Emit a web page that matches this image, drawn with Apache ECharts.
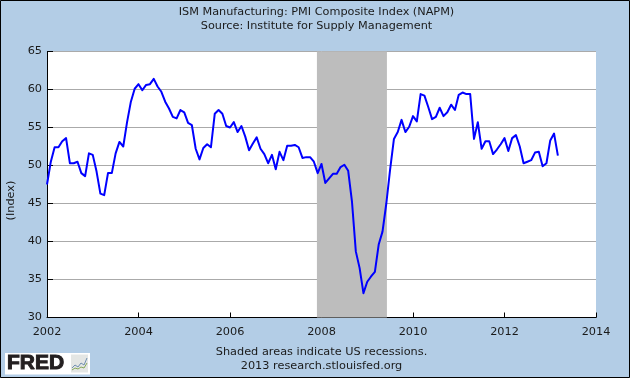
<!DOCTYPE html>
<html>
<head>
<meta charset="utf-8">
<title>ISM Manufacturing PMI</title>
<script src="https://cdn.jsdelivr.net/npm/echarts@6/dist/echarts.min.js"></script>
<style>
  html, body { margin: 0; padding: 0; background: #b3cde6; }
  #chart { width: 630px; height: 378px; }
</style>
</head>
<body>
<div id="chart"></div>
<script>
const startYear = 2002;

// monthly index readings, starting Jan 2002
const pmi2002 = [47.5, 50.5, 52.4, 52.4, 53.2, 53.6, 50.3, 50.3, 50.5, 49.0, 48.6, 51.6];
const pmi2003 = [51.4, 49.2, 46.3, 46.1, 49.0, 49.0, 51.6, 53.1, 52.5, 55.7, 58.4, 60.1];
const pmi2004 = [60.7, 59.9, 60.6, 60.7, 61.4, 60.4, 59.7, 58.4, 57.5, 56.4, 56.2, 57.3];
const pmi2005 = [57.0, 55.6, 55.3, 52.2, 50.8, 52.3, 52.8, 52.4, 56.8, 57.3, 56.8, 55.2];
const pmi2006 = [55.0, 55.7, 54.4, 55.2, 53.8, 52.0, 52.9, 53.7, 52.2, 51.5, 50.3, 51.4];
const pmi2007 = [49.5, 51.8, 50.7, 52.6, 52.6, 52.7, 52.4, 51.0, 51.1, 51.1, 50.5, 49.0];
const pmi2008 = [50.2, 47.7, 48.3, 48.9, 48.9, 49.8, 50.1, 49.3, 45.2, 38.7, 36.5, 33.2];
const pmi2009 = [34.7, 35.4, 36.0, 39.6, 41.3, 45.0, 49.5, 53.5, 54.4, 56.0, 54.4, 55.1];
const pmi2010 = [56.5, 55.8, 59.4, 59.2, 57.7, 56.1, 56.4, 57.6, 56.5, 57.0, 58.0, 57.3];
const pmi2011 = [59.3, 59.6, 59.4, 59.4, 53.5, 55.7, 52.2, 53.2, 53.2, 51.5, 52.1, 52.8];
const pmi2012 = [53.6, 51.9, 53.6, 54.0, 52.5, 50.3, 50.5, 50.7, 51.7, 51.8, 49.9, 50.3];
const pmi2013 = [53.3, 54.2, 51.3];

const pmiValues = [].concat(pmi2002, pmi2003, pmi2004, pmi2005, pmi2006, pmi2007,
  pmi2008, pmi2009, pmi2010, pmi2011, pmi2012, pmi2013);

// Dec 2007 - Jun 2009, in decimal years
const recession = [2007.9, 2009.43];

const titleLines = "ISM Manufacturing: PMI Composite Index (NAPM)\nSource: Institute for Supply Management";
const footerLines = "Shaded areas indicate US recessions.\n2013 research.stlouisfed.org";

const font = "'DejaVu Sans', Verdana, sans-serif";
const textColor = "#1a1a1a";
const bgColor = "#b3cde6";

const chart = echarts.init(document.getElementById("chart"), null, { renderer: "canvas" });

const option = {
  animation: false,
  backgroundColor: bgColor,
  textStyle: { fontFamily: font },
  grid: {
    left: 47,
    right: 34,
    top: 51.5,
    bottom: 60.5,
    backgroundColor: "#fff",
    show: true,
    borderWidth: 0,
    outerBoundsMode: "none",
  },
  xAxis: {
    type: "value",
    min: 2002,
    max: 2014,
    interval: 2,
    splitLine: { show: false },
    axisLine: { onZero: false, lineStyle: { color: "#000", width: 1 } },
    axisTick: { inside: true, length: 5, lineStyle: { color: "#000" } },
    axisLabel: {
      color: textColor,
      fontSize: 11.3,
      fontFamily: font,
      margin: 9,
      formatter: v => String(v),
      hideOverlap: false,
    },
  },
  yAxis: {
    type: "value",
    min: 30,
    max: 65,
    interval: 5,
    name: "(Index)",
    nameLocation: "middle",
    nameRotate: 90,
    nameGap: 29,
    nameTextStyle: { color: textColor, fontSize: 11.3, fontFamily: font, padding: [0, 32, 0, 0] },
    splitLine: { lineStyle: { color: "#aaaaaa", width: 1 } },
    axisLine: { show: true, lineStyle: { color: "#000", width: 1 } },
    axisTick: { show: true, inside: true, length: 6, lineStyle: { color: "#000" } },
    axisLabel: { color: textColor, fontSize: 11.3, fontFamily: font, margin: 5 },
  },
  series: [
    {
      name: "PMI",
      type: "line",
      data: pmiValues.map((v, i) => [startYear + i / 12, v]),
      showSymbol: false,
      symbol: "none",
      lineStyle: { color: "#0000ff", width: 2, join: "round" },
      z: 5,
      markArea: {
        silent: true,
        itemStyle: { color: "#bdbdbd", opacity: 1 },
        data: [[{ xAxis: recession[0] }, { xAxis: recession[1] }]],
      },
    },
  ],
  graphic: [
    {
      type: "rect",
      silent: true,
      z: 100,
      shape: { x: 0.5, y: 0.5, width: 629, height: 377 },
      style: { fill: "none", stroke: "#000", lineWidth: 1 },
    },
    {
      type: "text",
      x: 316.5,
      y: 5,
      style: { text: titleLines, fill: textColor, font: "11.25px " + font, align: "center", lineHeight: 14 },
    },
    {
      type: "text",
      x: 321.5,
      y: 345,
      style: { text: footerLines, fill: textColor, font: "11.3px " + font, align: "center", lineHeight: 14 },
    },
    // FRED logo
    {
      type: "rect",
      shape: { x: 5, y: 353, width: 85, height: 21.5 },
      style: { fill: "#fff" },
    },
    {
      type: "text",
      x: 7,
      y: 353,
      style: {
        text: "FRED",
        fill: "#231f20",
        stroke: "#231f20",
        lineWidth: 1,
        font: "bold 21px 'Liberation Sans', Arial, sans-serif",
      },
    },
    {
      type: "rect",
      shape: { x: 71, y: 354.5, width: 17, height: 18 },
      style: { fill: "#e4e6e4" },
    },
    {
      type: "polyline",
      shape: { points: [[72, 368], [75, 365], [78, 367], [81, 363], [84, 365], [87, 358]] },
      style: { fill: "none", stroke: "#6f8fb0", lineWidth: 1 },
    },
    {
      type: "polyline",
      shape: { points: [[72, 370], [75, 368], [78, 369], [81, 367], [84, 368], [87, 363]] },
      style: { fill: "none", stroke: "#86a85a", lineWidth: 1 },
    },
  ],
};

chart.setOption(option);
window.addEventListener("resize", () => chart.resize());
</script>
</body>
</html>
